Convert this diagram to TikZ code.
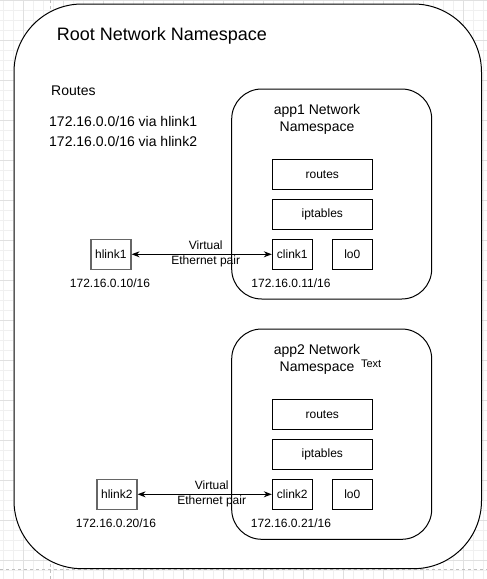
\documentclass[tikz,border=0pt]{standalone}
\usepackage{fontspec}
\setmainfont{Liberation Sans}
\usetikzlibrary{arrows.meta}

\begin{document}
\begin{tikzpicture}[x=1pt,y=-1pt,
    box/.style={draw,line width=1pt,minimum width=40pt,minimum height=30pt,inner sep=0pt,font=\fontsize{12}{14}\selectfont},
    wide/.style={box,minimum width=100pt},
    host/.style={box,draw=black!60,line width=1.6pt},
    addr/.style={inner sep=0pt,font=\fontsize{12}{14}\selectfont},
    pair/.style={{Stealth[length=8pt,width=6pt]}-{Stealth[length=8pt,width=6pt]},line width=1pt}]
    \useasboundingbox [fill=white] (0,0) rectangle (487,579);
    % grid
    \draw [black!6,line width=0.5pt,xshift=3.3pt,yshift=-0.7pt] (-10,-10) grid[step=10pt] (490,590);
    \draw [black!12,line width=0.5pt,xshift=23.3pt,yshift=-0.7pt] (-40,-40) grid[step=40pt] (480,600);
    \draw [black!25,dashed,line width=0.5pt] (50,0) -- (50,579);
    \draw [black!25,dashed,line width=0.5pt] (0,569.3) -- (487,569.3);

    \draw [fill=white,line width=1pt,rounded corners=68pt] (14,4) rectangle (481.5,568.7);
    \node (root) [inner sep=0pt,font=\fontsize{18}{21}\selectfont] at (162,36) {Root Network Namespace};
    \node (routes) [anchor=west,inner sep=0pt,font=\fontsize{14}{17}\selectfont] at (51,91) {Routes};
    \node (r1) [anchor=west,inner sep=0pt,font=\fontsize{14}{17}\selectfont] at (49,121) {172.16.0.0/16 via hlink1};
    \node (r2) [anchor=west,inner sep=0pt,font=\fontsize{14}{17}\selectfont] at (49,141) {172.16.0.0/16 via hlink2};

    % app1
    \draw [line width=1pt,rounded corners=30pt] (231.7,89) rectangle (431.7,299);
    \node (title1) [align=center,inner sep=0pt,font=\fontsize{14}{17}\selectfont] at (317,119.5) {app1 Network\\Namespace};
    \node (routes1) [wide] at (322.3,174.3) {routes};
    \node (ipt1) [wide] at (322.3,214.3) {iptables};
    \node (clink1) [box] at (292.3,254.3) {clink1};
    \node (lo1) [box] at (352.3,254.3) {lo0};
    \node (hlink1) [host] at (110.8,254.3) {hlink1};
    \draw [pair] (hlink1) -- (clink1);
    \node (veth1) [align=center,inner sep=0pt,font=\fontsize{12}{15}\selectfont] at (205.7,254.3) {Virtual\\Ethernet pair};
    \node (ip10) [addr] at (110,283.7) {172.16.0.10/16};
    \node (ip11) [addr] at (291,283.7) {172.16.0.11/16};

    % app2
    \draw [line width=1pt,rounded corners=30pt] (231.7,329) rectangle (431.7,539.3);
    \node (title2) [align=center,inner sep=0pt,font=\fontsize{14}{17}\selectfont] at (317,359.5) {app2 Network\\Namespace};
    \node (text) [inner sep=0pt,font=\fontsize{11}{13}\selectfont] at (371.2,363.3) {Text};
    \node (routes2) [wide] at (322.3,414.3) {routes};
    \node (ipt2) [wide] at (322.3,454.3) {iptables};
    \node (clink2) [box] at (292.3,494.3) {clink2};
    \node (lo2) [box] at (352.3,494.3) {lo0};
    \node (hlink2) [host] at (116.8,494.3) {hlink2};
    \draw [pair] (hlink2) -- (clink2);
    \node (veth2) [align=center,inner sep=0pt,font=\fontsize{12}{15}\selectfont] at (211.7,494.3) {Virtual\\Ethernet pair};
    \node (ip20) [addr] at (116,523.3) {172.16.0.20/16};
    \node (ip21) [addr] at (291,523.3) {172.16.0.21/16};
\end{tikzpicture}
\end{document}
